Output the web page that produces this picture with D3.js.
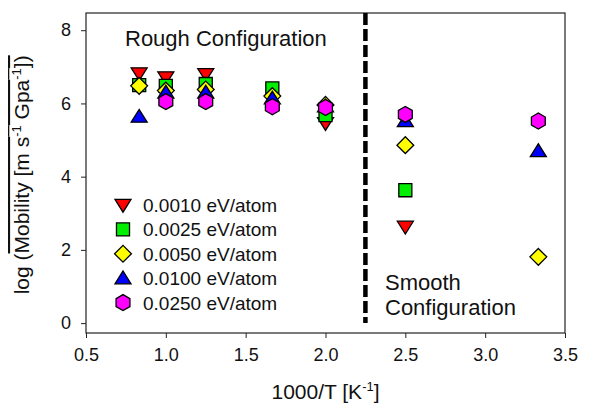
<!DOCTYPE html>
<html>
<head>
<meta charset="utf-8">
<script src="https://cdn.jsdelivr.net/npm/d3@7"></script>
<style>
  body { margin: 0; background: #fff; }
  svg text { font-family: "Liberation Sans", Arial, sans-serif; fill: #111; }
</style>
</head>
<body>
<svg id="chart" width="589" height="403"></svg>
<script>
// 1000/T values for the simulated temperatures
const xVals = [0.833, 1.0, 1.25, 1.667, 2.0, 2.5, 3.333]

// log mobility per load (null = no point)
const series = [
  {name: '0.0010 eV/atom', shape: 'down', color: '#ff0000', values: [6.82, 6.71, 6.80, null, 5.46, 2.63, null]},
  {name: '0.0025 eV/atom', shape: 'square', color: '#00ee00', values: [6.50, 6.48, 6.53, 6.41, 5.68, 3.63, null]},
  {name: '0.0050 eV/atom', shape: 'diamond', color: '#ffff00', values: [6.48, 6.35, 6.38, 6.20, 5.96, 4.86, 1.81]},
  {name: '0.0100 eV/atom', shape: 'up', color: '#0000ff', values: [5.64, 6.30, 6.30, 6.14, 5.92, 5.52, 4.70]},
  {name: '0.0250 eV/atom', shape: 'hex', color: '#ff00ff', values: [null, 6.05, 6.05, 5.91, 5.89, 5.70, 5.52]}
]

const xTicks = [0.5, 1.0, 1.5, 2.0, 2.5, 3.0, 3.5]
const yTicks = [0, 2, 4, 6, 8]
const boundary = 2.25

const margin = {top: 13, right: 24, bottom: 70, left: 86}
const width = 589, height = 403

const svg = d3.select('#chart')

const x = d3.scaleLinear().domain([0.5, 3.5]).range([margin.left, width - margin.right])
const y = d3.scaleLinear().domain([-0.27, 8.47]).range([height - margin.bottom, margin.top])

// frame
svg.append('rect')
  .attr('x', margin.left).attr('y', margin.top)
  .attr('width', width - margin.left - margin.right)
  .attr('height', height - margin.top - margin.bottom)
  .attr('fill', 'none').attr('stroke', '#222').attr('stroke-width', 1.2)

const xAxis = svg.append('g')
  .attr('transform', `translate(0,${height - margin.bottom})`)
  .call(d3.axisBottom(x).tickValues(xTicks).tickFormat(d3.format('.1f')).tickSizeOuter(0).tickSize(5).tickPadding(10))
xAxis.select('.domain').remove()
xAxis.selectAll('text').style('font-size', '18px').attr('fill', '#111')
xAxis.selectAll('line').attr('stroke', '#222')

const yAxis = svg.append('g')
  .attr('transform', `translate(${margin.left},0)`)
  .call(d3.axisLeft(y).tickValues(yTicks).tickFormat(d3.format('d')).tickSizeOuter(0).tickSize(5).tickPadding(10))
yAxis.select('.domain').remove()
yAxis.selectAll('text').style('font-size', '18px').attr('fill', '#111')
yAxis.selectAll('line').attr('stroke', '#222')

// x title
const xt = svg.append('text')
  .attr('x', x(2.0)).attr('y', 399)
  .attr('text-anchor', 'middle')
  .style('font-size', '21px')
xt.append('tspan').text('1000/T [K')
xt.append('tspan').text('-1').attr('dy', -8).style('font-size', '13px')
xt.append('tspan').text(']').attr('dy', 8)

// y title (rotated)
const yt = svg.append('text')
  .attr('transform', `translate(29,${y(4.05)}) rotate(-90)`)
  .attr('text-anchor', 'middle')
  .style('font-size', '21px')
yt.append('tspan').text('log (')
const ov = yt.append('tspan').style('text-decoration', 'overline')
ov.append('tspan').text('Mobility [m s')
ov.append('tspan').text('-1').attr('dy', -8).style('font-size', '13px')
ov.append('tspan').text(' Gpa').attr('dy', 8)
ov.append('tspan').text('-1').attr('dy', -8).style('font-size', '13px')
ov.append('tspan').text('])').attr('dy', 8)

// regime boundary
svg.append('line')
  .attr('x1', x(boundary)).attr('x2', x(boundary))
  .attr('y1', margin.top).attr('y2', y(0))
  .attr('stroke', '#000').attr('stroke-width', 4.5)
  .attr('stroke-dasharray', '12,4')

svg.append('text')
  .attr('x', 125).attr('y', 46)
  .style('font-size', '22px')
  .text('Rough Configuration')

const sm = svg.append('text').attr('x', 385).attr('y', 290).style('font-size', '22px')
sm.append('tspan').text('Smooth')
sm.append('tspan').text('Configuration').attr('x', 385).attr('dy', 25)

// marker shapes
const shapePath = (shape) => {
  const s = 8
  if (shape === 'down') return `M${-s},${-s * 0.7}L${s},${-s * 0.7}L0,${s * 0.9}Z`
  if (shape === 'up') return `M${-s},${s * 0.7}L${s},${s * 0.7}L0,${-s * 0.9}Z`
  if (shape === 'square') return d3.symbol(d3.symbolSquare, 170)()
  if (shape === 'diamond') return `M0,${-s * 1.05}L${s * 1.05},0L0,${s * 1.05}L${-s * 1.05},0Z`
  if (shape === 'hex') {
    const r = 8
    return d3.range(6).map(i => {
      const a = Math.PI / 6 + i * Math.PI / 3
      return (i ? 'L' : 'M') + (r * Math.cos(a)) + ',' + (r * Math.sin(a))
    }).join('') + 'Z'
  }
}

const points = svg.append('g')
series.forEach(s => {
  points.append('g').selectAll('path')
    .data(s.values.map((v, i) => ({x: xVals[i], v})).filter(d => d.v !== null))
    .join('path')
    .attr('d', shapePath(s.shape))
    .attr('transform', d => `translate(${x(d.x)},${y(d.v)})`)
    .attr('fill', s.color)
    .attr('stroke', '#000')
    .attr('stroke-width', 1.3)
})

// legend
const legend = svg.append('g')
series.forEach((s, i) => {
  const ly = 205 + i * 24.4
  legend.append('path')
    .attr('d', shapePath(s.shape))
    .attr('transform', `translate(123,${ly})`)
    .attr('fill', s.color).attr('stroke', '#000').attr('stroke-width', 1.3)
  legend.append('text')
    .attr('x', 143).attr('y', ly + 7)
    .style('font-size', '19px')
    .text(s.name)
})
</script>
</body>
</html>
